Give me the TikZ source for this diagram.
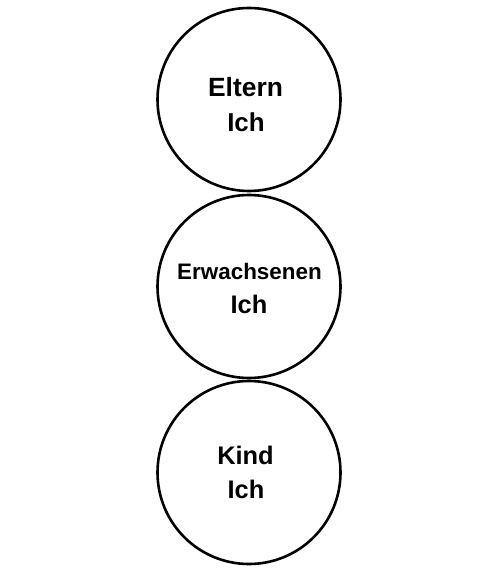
\documentclass[tikz,border=0pt]{standalone}
\usepackage{fontspec}
\setmainfont{Liberation Sans}
\begin{document}
\begin{tikzpicture}[x=1bp,y=-1bp,
  ring/.style={circle,draw=black,line width=2.6bp,minimum size=183bp,inner sep=0pt},
  lbl/.style={anchor=base,inner sep=0pt,font=\bfseries}]
\useasboundingbox (0,0) rectangle (500,582);
\node[ring] (c1) at (249,99.5) {};
\node[ring] (c2) at (249,286.5) {};
\node[ring] (c3) at (249,472.5) {};
\node[lbl,font=\fontsize{26.5}{30}\selectfont\bfseries] (t1a) at (245.5,97) {Eltern};
\node[lbl,font=\fontsize{26}{30}\selectfont\bfseries] (t1b) at (246,132) {Ich};
\node[lbl,font=\fontsize{22.5}{26}\selectfont\bfseries] (t2a) at (249.5,279) {Erwachsenen};
\node[lbl,font=\fontsize{25.5}{30}\selectfont\bfseries] (t2b) at (249,313) {Ich};
\node[lbl,font=\fontsize{25.5}{30}\selectfont\bfseries] (t3a) at (245.5,464) {Kind};
\node[lbl,font=\fontsize{25.5}{30}\selectfont\bfseries] (t3b) at (246,498) {Ich};
\end{tikzpicture}
\end{document}
